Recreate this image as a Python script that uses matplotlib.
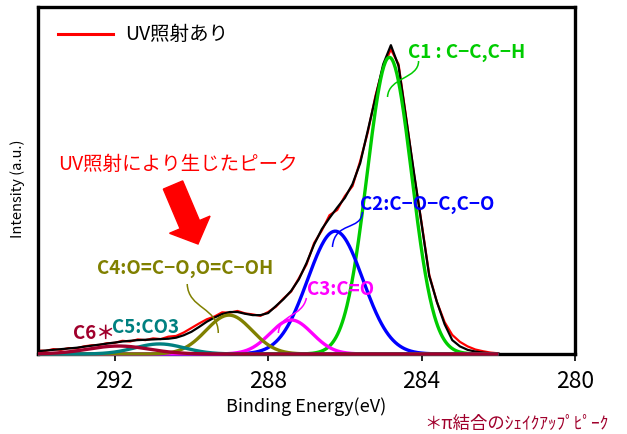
import numpy as np
import matplotlib
matplotlib.use("Agg")
import matplotlib.pyplot as plt
from matplotlib.path import Path
from matplotlib.patches import PathPatch, FancyArrow
from matplotlib.transforms import IdentityTransform

plt.rcParams['font.family'] = ['Noto Sans CJK JP', 'DejaVu Sans']

# binding energy grid of the measured / envelope curves (eV)
energy = [294.0, 293.8, 293.6, 293.4, 293.2, 293.0, 292.8, 292.6, 292.4, 292.2,
          292.0, 291.8, 291.6, 291.4, 291.2, 291.0, 290.8, 290.6, 290.4, 290.2,
          290.0, 289.8, 289.6, 289.4, 289.2, 289.0, 288.8, 288.6, 288.4, 288.2,
          288.0, 287.8, 287.6, 287.4, 287.2, 287.0, 286.8, 286.6, 286.4, 286.2,
          286.0, 285.8, 285.6, 285.4, 285.2, 285.0, 284.8, 284.6, 284.4, 284.2,
          284.0, 283.8, 283.6, 283.4, 283.2, 283.0, 282.8, 282.6, 282.4, 282.2,
          282.0]

# measured spectrum (UV irradiated)
measured = [0.010, 0.009, 0.014, 0.012, 0.017, 0.016, 0.022, 0.025, 0.026, 0.031,
            0.032, 0.038, 0.036, 0.042, 0.040, 0.045, 0.043, 0.050, 0.052, 0.062,
            0.075, 0.088, 0.100, 0.108, 0.120, 0.119, 0.124, 0.117, 0.114, 0.110,
            0.121, 0.136, 0.160, 0.180, 0.218, 0.258, 0.320, 0.356, 0.400, 0.415,
            0.455, 0.484, 0.556, 0.640, 0.745, 0.828, 0.878, 0.835, 0.680, 0.520,
            0.378, 0.228, 0.150, 0.092, 0.055, 0.035, 0.022, 0.013, 0.008, 0.004,
            0.002]

# fitted envelope
envelope = [0.008, 0.010, 0.012, 0.014, 0.016, 0.018, 0.021, 0.024, 0.027, 0.030,
            0.033, 0.036, 0.038, 0.040, 0.041, 0.042, 0.043, 0.044, 0.047, 0.054,
            0.064, 0.078, 0.093, 0.105, 0.115, 0.121, 0.121, 0.116, 0.112, 0.112,
            0.118, 0.138, 0.158, 0.182, 0.215, 0.262, 0.316, 0.360, 0.392, 0.422,
            0.450, 0.490, 0.550, 0.645, 0.740, 0.835, 0.890, 0.830, 0.677, 0.524,
            0.375, 0.225, 0.150, 0.086, 0.040, 0.022, 0.012, 0.007, 0.004, 0.002,
            0.001]

# fitted peak components: centre (eV), height, sigma (eV)
peak_names = ["C1", "C2", "C3", "C4", "C5", "C6"]
peak_centers = [284.84, 286.25, 287.40, 289.02, 290.83, 291.90]
peak_heights = [0.855, 0.354, 0.098, 0.112, 0.029, 0.023]
peak_sigmas = [0.58, 0.72, 0.55, 0.60, 0.65, 0.80]
peak_colors = ['#00cc00', '#0000ff', '#ff00ff', '#808000', '#008080', '#a0002c']

labels = ["C1 : C−C,C−H", "C2:C−O−C,C−O", "C3:C=O", "C4:O=C−O,O=C−OH",
          "C5:CO3", "C6＊"]

W, H = 627, 435
fig = plt.figure(figsize=(W / 100, H / 100), dpi=100)
ax = fig.add_axes([38 / W, 80 / H, 537 / W, 347 / H])
ax.set_xlim(294, 280)
ax.set_ylim(0, 1)


def px(x, y):
    # picture pixel -> data coordinates
    return 284 + (421 - x) / 38.3, (355 - y) / 347


ax.plot(energy, measured, color='#ff0000', lw=1.6, zorder=2)
ax.plot(energy, envelope, color='black', lw=1.6, zorder=3)

xs = np.linspace(294, 282, 600)
for i in range(len(peak_names)):
    yc = peak_heights[i] * np.exp(-(xs - peak_centers[i]) ** 2 / (2 * peak_sigmas[i] ** 2))
    ax.plot(xs, yc, color=peak_colors[i], lw=2.4, zorder=4 + i, clip_on=False,
            solid_capstyle='butt')

# peak labels
label_px = [(407, 52), (360, 205), (307, 290), (97, 268), (112, 328), (73, 333)]
for i in range(len(labels)):
    lx, ly = px(*label_px[i])
    ax.text(lx, ly, labels[i], color=peak_colors[i], fontsize=13.5, fontweight='bold',
            ha='left', va='center', zorder=12)

# leader lines
leaders = [
    (0, [(418, 62), (418, 80), (388, 78), (387, 98)]),
    (1, [(362, 213), (361, 232), (334, 222), (332, 248)]),
    (2, [(306, 299), (302, 318), (279, 315), (278, 334)]),
    (3, [(187, 285), (188, 310), (218, 308), (218, 334)]),
]
for i, pts in leaders:
    verts = [px(*p) for p in pts]
    path = Path(verts, [Path.MOVETO, Path.CURVE4, Path.CURVE4, Path.CURVE4])
    ax.add_patch(PathPatch(path, fc='none', ec=peak_colors[i], lw=1.1, zorder=12))

# legend
lx0, ly0 = px(58, 35)
lx1, _ = px(113, 35)
ax.plot([lx0, lx1], [ly0, ly0], color='#ff0000', lw=2.2)
tx, _ = px(125, 35)
ax.text(tx, ly0, "UV照射あり", fontsize=14, ha='left', va='center')

# annotation
ax_, ay_ = px(58, 165)
ax.text(ax_, ay_, "UV照射により生じたピーク", color='#ff0000', fontsize=14,
        ha='left', va='center')
fig.add_artist(FancyArrow(173, H - 186, 25, -59, width=21, head_width=44,
                          head_length=21, length_includes_head=True,
                          color='#ff0000', transform=IdentityTransform()))

# axes styling
for s in ax.spines.values():
    s.set_linewidth(2.4)
ax.set_yticks([])
ax.set_xticks([292, 288, 284, 280])
ax.tick_params(axis='x', direction='out', length=5, width=1.2, labelsize=16.5, pad=6)
ax.set_xlabel("Binding Energy(eV)", fontsize=13, labelpad=3)
ax.set_ylabel("Intensity (a.u.)", fontsize=10.5)
ax.yaxis.set_label_coords(-0.024, 0.48)

fig.text(424 / W, 1 - 424 / H, "＊π結合のｼｪｲｸｱｯﾌﾟﾋﾟｰｸ", color='#a0002c', fontsize=12.5,
         ha='left', va='center')

fig.savefig("out.png", dpi=100)
